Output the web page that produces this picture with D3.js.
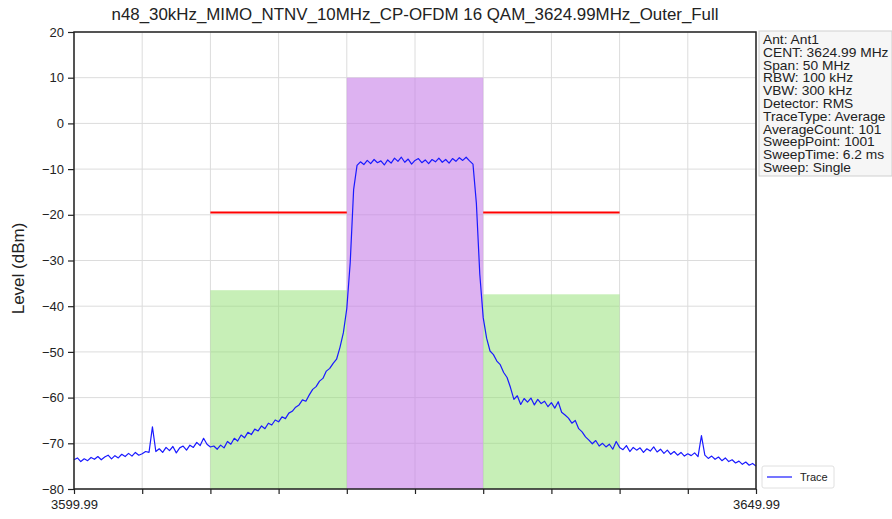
<!DOCTYPE html>
<html>
<head>
<meta charset="utf-8">
<script src="https://cdn.jsdelivr.net/npm/d3@7"></script>
<style>
  body { margin: 0; background: #fff; }
  svg { display: block; font-family: "Liberation Sans", Arial, sans-serif; }
</style>
</head>
<body>
<svg id="chart" width="892" height="519"></svg>
<script>
// ---------- data ----------
const title = "n48_30kHz_MIMO_NTNV_10MHz_CP-OFDM 16 QAM_3624.99MHz_Outer_Full";
const freqStart = 3599.99;
const freqStop = 3649.99;
const freqStep = 0.25; // MHz between plotted sweep points
const freqTicks = [3599.99, 3604.99, 3609.99, 3614.99, 3619.99, 3624.99, 3629.99, 3634.99, 3639.99, 3644.99, 3649.99];
const freqTickLabels = ["3599.99", "", "", "", "", "", "", "", "", "", "3649.99"];
const levelTicks = [20, 10, 0, -10, -20, -30, -40, -50, -60, -70, -80];

// channel (pink) band
const channelBand = { x0: 3619.99, x1: 3629.99, top: 10 };
// adjacent (green) bands
const adjBands = [
  { x0: 3609.99, x1: 3619.99, top: -36.5 },
  { x0: 3629.99, x1: 3639.99, top: -37.4 }
];
// limit (red) lines
const limitLines = [
  { x0: 3609.99, x1: 3619.99, level: -19.5 },
  { x0: 3629.99, x1: 3639.99, level: -19.5 }
];

const traceLevels = [
  -73.6,-73.2,-74.0,-73.4,-73.8,-73.1,-73.5,-72.9,-73.6,-73.0,-72.6,-73.4,-72.7,-73.2,-72.4,-72.9,-72.2,-72.8,-72.0,-72.6,-72.3,
  -71.8,-72.0,-66.4,-71.8,-71.2,-72.0,-70.9,-71.6,-70.7,-72.1,-71.0,-70.6,-71.5,-70.4,-70.9,-69.8,-70.5,-68.9,-70.2,-70.8,
  -70.6,-71.3,-70.4,-71.0,-69.6,-70.2,-68.9,-69.5,-68.2,-68.8,-67.6,-68.1,-66.9,-67.3,-66.2,-66.8,-65.6,-66.0,-64.9,-65.3,
  -64.2,-64.6,-63.4,-63.0,-62.1,-61.6,-60.5,-60.8,-59.4,-58.2,-57.6,-56.4,-55.8,-54.2,-53.6,-52.5,-51.6,-49.0,-45.8,-40.5,
  -30.5,-14.5,-9.2,-8.4,-9.0,-8.1,-8.8,-7.9,-8.6,-8.2,-9.1,-8.0,-8.7,-7.6,-8.3,-7.4,-8.5,-7.8,-8.9,-8.1,
  -7.7,-8.6,-8.0,-8.8,-7.9,-8.4,-7.6,-8.5,-7.9,-8.7,-7.7,-8.3,-7.5,-8.1,-7.4,-8.2,-8.9,-17.5,-33.0,-42.5,
  -47.0,-49.8,-50.6,-52.0,-52.8,-54.5,-55.6,-57.8,-60.4,-59.6,-61.5,-60.2,-61.0,-60.1,-61.6,-60.4,-61.3,-60.8,-62.0,-61.1,
  -62.3,-60.9,-63.2,-63.8,-64.5,-65.6,-65.0,-66.8,-67.5,-68.6,-69.3,-70.1,-69.4,-70.6,-70.0,-70.8,-70.2,-71.3,-69.6,-70.9,
  -71.4,-70.5,-71.8,-70.9,-71.5,-71.0,-72.0,-71.2,-71.7,-70.8,-71.9,-71.3,-72.2,-71.5,-72.4,-71.8,-72.6,-72.0,-72.8,-72.3,
  -72.7,-72.1,-72.9,-68.3,-72.6,-73.3,-72.8,-73.5,-73.0,-73.8,-73.2,-74.0,-73.6,-74.3,-73.9,-74.6,-74.1,-74.8,-74.4,-75.0
];

const infoLines = [
  "Ant: Ant1",
  "CENT: 3624.99 MHz",
  "Span: 50 MHz",
  "RBW: 100 kHz",
  "VBW: 300 kHz",
  "Detector: RMS",
  "TraceType: Average",
  "AverageCount: 101",
  "SweepPoint: 1001",
  "SweepTime: 6.2 ms",
  "Sweep: Single"
];
const legendLabel = "Trace";

// ---------- layout ----------
const svg = d3.select("#chart");
const m = { left: 74, right: 756, top: 32, bottom: 489 };

const x = d3.scaleLinear().domain([freqStart, freqStop]).range([m.left, m.right]);
const y = d3.scaleLinear().domain([-80, 20]).range([m.bottom, m.top]);

// grid
const grid = svg.append("g");
grid.selectAll("line.gx").data(freqTicks).join("line")
  .attr("x1", d => x(d)).attr("x2", d => x(d))
  .attr("y1", m.top).attr("y2", m.bottom)
  .attr("stroke", "#dcdcdc").attr("stroke-width", 1);
grid.selectAll("line.gy").data(levelTicks).join("line")
  .attr("x1", m.left).attr("x2", m.right)
  .attr("y1", d => y(d)).attr("y2", d => y(d))
  .attr("stroke", "#dcdcdc").attr("stroke-width", 1);

// bands
svg.append("rect")
  .attr("x", x(channelBand.x0)).attr("width", x(channelBand.x1) - x(channelBand.x0))
  .attr("y", y(channelBand.top)).attr("height", y(-80) - y(channelBand.top))
  .attr("fill", "#c77ee8").attr("fill-opacity", 0.6);
svg.selectAll("rect.adj").data(adjBands).join("rect")
  .attr("x", d => x(d.x0)).attr("width", d => x(d.x1) - x(d.x0))
  .attr("y", d => y(d.top)).attr("height", d => y(-80) - y(d.top))
  .attr("fill", "#90e070").attr("fill-opacity", 0.5);

// limit lines
svg.selectAll("line.lim").data(limitLines).join("line")
  .attr("x1", d => x(d.x0)).attr("x2", d => x(d.x1))
  .attr("y1", d => y(d.level)).attr("y2", d => y(d.level))
  .attr("stroke", "#ff0000").attr("stroke-width", 2);

// trace
const traceData = traceLevels.map((v, i) => [freqStart + i * freqStep, v]);
svg.append("path")
  .datum(traceData)
  .attr("fill", "none")
  .attr("stroke", "#1a1aff")
  .attr("stroke-width", 1.2)
  .attr("stroke-linejoin", "round")
  .attr("d", d3.line().x(d => x(d[0])).y(d => y(d[1])));

// frame
svg.append("rect")
  .attr("x", m.left).attr("y", m.top)
  .attr("width", m.right - m.left).attr("height", m.bottom - m.top)
  .attr("fill", "none").attr("stroke", "#222").attr("stroke-width", 1.5);

// axes
const yAxis = d3.axisLeft(y).tickValues(levelTicks).tickSize(6).tickPadding(4)
  .tickFormat(d3.format("d"));
const gy = svg.append("g").attr("transform", `translate(${m.left},0)`).call(yAxis);
gy.select(".domain").remove();
gy.selectAll("text").attr("font-size", 13).attr("fill", "#222")
  .attr("font-family", "'Liberation Sans', Arial, sans-serif");
gy.selectAll("line").attr("stroke", "#222").attr("stroke-width", 1.2);

const xAxis = d3.axisBottom(x).tickValues(freqTicks).tickSize(5).tickPadding(6)
  .tickFormat((d, i) => freqTickLabels[i]);
const gx = svg.append("g").attr("transform", `translate(0,${m.bottom})`).call(xAxis);
gx.select(".domain").remove();
gx.selectAll("text").attr("font-size", 13).attr("fill", "#222")
  .attr("font-family", "'Liberation Sans', Arial, sans-serif");
gx.selectAll("line").attr("stroke", "#222").attr("stroke-width", 1.2);

// title
svg.append("text")
  .attr("x", 415).attr("y", 20)
  .attr("text-anchor", "middle")
  .attr("font-size", 16.5).attr("fill", "#222")
  .attr("textLength", 607).attr("lengthAdjust", "spacingAndGlyphs")
  .text(title);

// y label
svg.append("text")
  .attr("transform", `translate(24,${(m.top + m.bottom) / 2 + 8}) rotate(-90)`)
  .attr("text-anchor", "middle")
  .attr("font-size", 17).attr("fill", "#222")
  .text("Level (dBm)");

// info box
const info = svg.append("g");
info.append("rect")
  .attr("x", 759).attr("y", 31).attr("width", 133).attr("height", 145)
  .attr("fill", "#f6f6f6").attr("stroke", "#d0d0d0");
info.selectAll("text").data(infoLines).join("text")
  .attr("transform", (d, i) => `translate(763,${44 + i * 12.8}) scale(1.13,1)`)
  .attr("font-size", 12.2).attr("fill", "#222")
  .text(d => d);

// legend
const lg = svg.append("g");
lg.append("rect")
  .attr("x", 762).attr("y", 466).attr("width", 72).attr("height", 22).attr("rx", 2)
  .attr("fill", "#fff").attr("stroke", "#e0e0e0");
lg.append("line")
  .attr("x1", 767).attr("x2", 792).attr("y1", 477).attr("y2", 477)
  .attr("stroke", "#1a1aff").attr("stroke-width", 1.2);
lg.append("text")
  .attr("x", 800).attr("y", 481)
  .attr("font-size", 11).attr("fill", "#222")
  .text(legendLabel);
</script>
</body>
</html>
